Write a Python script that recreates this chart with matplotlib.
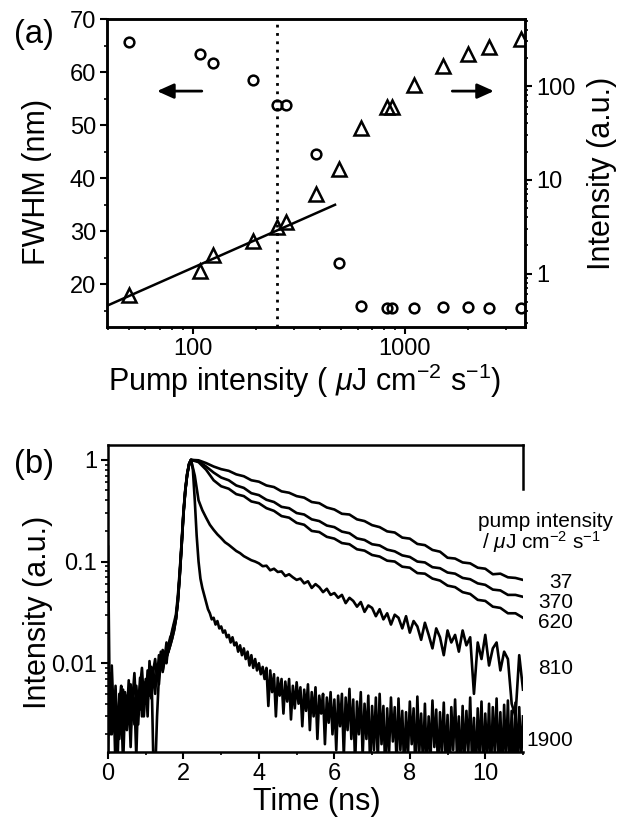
import numpy as np
import matplotlib
matplotlib.use("Agg")
import matplotlib.pyplot as plt
from matplotlib.ticker import FuncFormatter, NullFormatter, LogLocator, MultipleLocator

plt.rcParams['font.family'] = ['Liberation Sans', 'DejaVu Sans']
plt.rcParams['mathtext.fontset'] = 'custom'
plt.rcParams['mathtext.rm'] = 'Liberation Sans'
plt.rcParams['mathtext.it'] = 'Liberation Sans:italic'

# ---- panel (a): FWHM and output intensity vs pump intensity ----
pump = [50, 109, 125, 192, 249, 277, 382, 493, 625, 825, 871, 1111, 1512, 2000, 2510, 3530]
fwhm = [65.6, 63.4, 61.7, 58.4, 53.75, 53.75, 44.5, 23.9, 15.9, 15.5, 15.5, 15.5, 15.6, 15.6, 15.5, 15.5]
out_int = [0.59, 1.08, 1.59, 2.25, 3.18, 3.53, 7.05, 13.0, 35.9, 59.9, 59.9, 103, 162, 218, 263, 315]
fit_x = [39.5, 470]
fit_y = [0.455, 5.43]
threshold = 250

# ---- panel (b): decay traces ----
decay_labels = ['37', '370', '620', '810', '1900']
# pre-peak noisy rise, t = 0 .. 2.15 ns every 0.05 ns
rise_a = [0.14, 0.0030, 0.0045, 0.0022, 0.0060, 0.0016, 0.0050, 0.0030, 0.0055, 0.0025,
          0.0048, 0.0032, 0.0062, 0.0028, 0.0045, 0.0012, 0.0052, 0.0035, 0.0068, 0.0030,
          0.0058, 0.0042, 0.0075, 0.0045, 0.0088, 0.0050, 0.0095, 0.0062, 0.0110, 0.0085,
          0.0105, 0.0125, 0.0140, 0.0170, 0.0200, 0.0240, 0.027, 0.040, 0.070, 0.14,
          0.30, 0.50, 0.72, 0.90]
rise_b = [0.0014, 0.0080, 0.0020, 0.0045, 0.0009, 0.0035, 0.0018, 0.0042, 0.0010, 0.0038,
          0.0022, 0.0048, 0.0015, 0.0055, 0.0025, 0.0060, 0.0035, 0.0072, 0.0030, 0.0065,
          0.0040, 0.0085, 0.0048, 0.0092, 0.0012, 0.0008, 0.0030, 0.0075, 0.0130, 0.0082,
          0.0115, 0.0100, 0.0150, 0.0180, 0.0195, 0.0220, 0.028, 0.042, 0.075, 0.15,
          0.31, 0.52, 0.74, 0.92]
rise_c = [0.0060, 0.0020, 0.0095, 0.0030, 0.0048, 0.0010, 0.0040, 0.0060, 0.0018, 0.0052,
          0.0030, 0.0068, 0.0022, 0.0045, 0.0080, 0.0035, 0.0025, 0.0058, 0.0090, 0.0042,
          0.0070, 0.0030, 0.0105, 0.0060, 0.0085, 0.0110, 0.0070, 0.0120, 0.0090, 0.0135,
          0.0110, 0.0160, 0.0130, 0.0170, 0.0210, 0.0250, 0.0300, 0.045, 0.080, 0.15,
          0.30, 0.51, 0.73, 0.91]
# smooth rise, t = 1.5 .. 2.15 ns every 0.05 ns
rise_s = [0.0105, 0.0115, 0.0130, 0.0150, 0.0175, 0.021, 0.027, 0.040, 0.072, 0.14,
          0.29, 0.50, 0.72, 0.91]

# decays from the peak at 2.2 ns, every 0.2 ns
dec_37 = [1.00, 0.99, 0.93, 0.86, 0.81, 0.78, 0.72, 0.69, 0.63, 0.61,
          0.56, 0.54, 0.49, 0.475, 0.44, 0.425, 0.385, 0.375, 0.34, 0.325,
          0.295, 0.29, 0.26, 0.25, 0.228, 0.218, 0.198, 0.193, 0.172, 0.168,
          0.149, 0.145, 0.130, 0.125, 0.109, 0.107, 0.098, 0.096, 0.087, 0.085,
          0.075, 0.076, 0.070, 0.069, 0.066]
dec_370 = [1.00, 0.97, 0.86, 0.75, 0.67, 0.63, 0.56, 0.53, 0.47, 0.45,
           0.405, 0.385, 0.345, 0.335, 0.30, 0.29, 0.26, 0.25, 0.226, 0.218,
           0.197, 0.19, 0.169, 0.163, 0.148, 0.144, 0.131, 0.126, 0.115, 0.111,
           0.100, 0.098, 0.088, 0.086, 0.078, 0.076, 0.069, 0.067, 0.061, 0.059,
           0.053, 0.052, 0.047, 0.047, 0.045]
dec_620 = [1.00, 0.95, 0.80, 0.63, 0.55, 0.52, 0.46, 0.44, 0.39, 0.375,
           0.335, 0.315, 0.28, 0.27, 0.24, 0.23, 0.20, 0.195, 0.175, 0.168,
           0.152, 0.148, 0.132, 0.128, 0.116, 0.112, 0.102, 0.100, 0.089, 0.087,
           0.077, 0.076, 0.068, 0.065, 0.058, 0.056, 0.050, 0.048, 0.042, 0.041,
           0.036, 0.035, 0.031, 0.031, 0.028]
# every 0.1 ns
dec_810 = [1.0, 0.70, 0.40, 0.32, 0.27, 0.23, 0.205, 0.185, 0.170, 0.155,
           0.146, 0.136, 0.127, 0.121, 0.113, 0.108, 0.103, 0.100, 0.096, 0.090,
           0.091, 0.082, 0.085, 0.079, 0.080, 0.072, 0.075, 0.070, 0.066, 0.068,
           0.061, 0.064, 0.055, 0.060, 0.056, 0.050, 0.054, 0.047, 0.049, 0.044,
           0.047, 0.039, 0.044, 0.041, 0.036, 0.040, 0.032, 0.037, 0.035, 0.029,
           0.034, 0.027, 0.031, 0.024, 0.030, 0.028, 0.022, 0.029, 0.020, 0.026,
           0.023, 0.017, 0.025, 0.019, 0.014, 0.022, 0.018, 0.012, 0.021, 0.016,
           0.019, 0.013, 0.021, 0.015, 0.018, 0.0050, 0.016, 0.011, 0.019, 0.0095,
           0.014, 0.016, 0.0085, 0.013, 0.0110, 0.0040, 0.0030, 0.0120, 0.0055]
# every 0.05 ns
dec_1900 = [1.0, 0.80, 0.40, 0.18, 0.10, 0.068, 0.055, 0.047, 0.040, 0.034,
            0.031, 0.027, 0.028, 0.024, 0.026, 0.022, 0.023, 0.020, 0.021, 0.018,
            0.019, 0.016, 0.018, 0.015, 0.016, 0.013, 0.015, 0.012, 0.014, 0.011,
            0.013, 0.0095, 0.012, 0.0090, 0.011, 0.0085, 0.010, 0.0078, 0.0092, 0.0070,
            0.0090, 0.0038, 0.0085, 0.0052, 0.0078, 0.0030, 0.0072, 0.0048, 0.0070, 0.0032,
            0.0066, 0.0042, 0.0070, 0.0028, 0.0060, 0.0036, 0.0065, 0.0040, 0.0058, 0.0024,
            0.0055, 0.0034, 0.0062, 0.0022, 0.0052, 0.0030, 0.0058, 0.0018, 0.0048, 0.0032,
            0.0050, 0.0016, 0.0046, 0.0026, 0.0052, 0.0020, 0.0044, 0.0014, 0.0048, 0.0024,
            0.0050, 0.0012, 0.0046, 0.0022, 0.0056, 0.0018, 0.0044, 0.0010, 0.0042, 0.0020,
            0.0052, 0.0012, 0.0040, 0.0018, 0.0048, 0.0009, 0.0038, 0.0014, 0.0046, 0.0011,
            0.0050, 0.0016, 0.0038, 0.0008, 0.0036, 0.0013, 0.0046, 0.0017, 0.0037, 0.0010,
            0.0045, 0.0014, 0.0034, 0.0009, 0.0033, 0.0012, 0.0042, 0.0016, 0.0036, 0.0008,
            0.0047, 0.0013, 0.0032, 0.0010, 0.0040, 0.0009, 0.0030, 0.0012, 0.0043, 0.0015,
            0.0035, 0.0008, 0.0033, 0.0013, 0.0041, 0.0010, 0.0031, 0.0007, 0.0037, 0.0014,
            0.0044, 0.0012, 0.0030, 0.0008, 0.0038, 0.0011, 0.0034, 0.0013, 0.0046, 0.0010,
            0.0029, 0.0008, 0.0036, 0.0012, 0.0042, 0.0009, 0.0032, 0.0011, 0.0040, 0.0008,
            0.0037, 0.0013, 0.0045, 0.0009, 0.0033, 0.0008, 0.0039, 0.0011, 0.0043, 0.0009,
            0.0034, 0.0007, 0.0041, 0.0009, 0.0037, 0.0011, 0.0030]

label_y_px = [583, 602, 623, 669, 740]


def trace(rise, rise_t0, dec, dec_step):
    t1 = rise_t0 + 0.05 * np.arange(len(rise))
    t2 = 2.2 + dec_step * np.arange(len(dec))
    return np.concatenate([t1, t2]), np.concatenate([rise, dec])


def style_ticks(ax):
    ax.tick_params(which='major', direction='out', length=5, width=1.5, labelsize=17, pad=3)
    ax.tick_params(which='minor', direction='out', length=2.5, width=1.2)


W, H = 618, 819
fig = plt.figure(figsize=(W / 100, H / 100), dpi=100)

# panel (a)
ax = fig.add_axes([107 / W, 1 - 327 / H, (525 - 107) / W, (327 - 19) / H])
ax2 = ax.twinx()
for a in (ax, ax2):
    for s in a.spines.values():
        s.set_linewidth(1.8)

ax.set_xscale('log')
ax.set_xlim(39.5, 3700)
ax.set_ylim(11.9, 70)
ax.plot(pump, fwhm, 'o', ms=7, mfc='none', mec='black', mew=1.8)
ax.axvline(threshold, color='black', lw=2, ls=(0, (1, 2)))
ax.yaxis.set_major_locator(MultipleLocator(10))
ax.yaxis.set_minor_locator(MultipleLocator(5))
ax.xaxis.set_major_formatter(FuncFormatter(lambda v, p: f'{v:g}'))
ax.xaxis.set_minor_formatter(NullFormatter())
ax.set_ylabel('FWHM (nm)', fontsize=22)
ax.set_xlabel(r'Pump intensity ( $\mu$J cm$^{-2}$ s$^{-1}$)', fontsize=22)
ax.yaxis.set_label_coords(-0.132, 0.47)
ax.xaxis.set_label_coords(0.474, -0.112)
style_ticks(ax)

ax2.set_yscale('log')
ax2.set_ylim(0.27, 520)
ax2.plot(pump, out_int, '^', ms=10, mfc='none', mec='black', mew=1.8)
ax2.plot(fit_x, fit_y, color='black', lw=1.8)
ax2.yaxis.set_major_locator(LogLocator(base=10))
ax2.yaxis.set_major_formatter(FuncFormatter(lambda v, p: f'{v:g}'))
ax2.yaxis.set_minor_formatter(NullFormatter())
ax2.set_ylabel('Intensity (a.u.)', fontsize=22)
ax2.yaxis.set_label_coords(1.148, 0.5)
style_ticks(ax2)

arrow = dict(arrowstyle='-|>,head_length=1.0,head_width=0.45', color='black', lw=2)
ax.annotate('', xy=(66, 56.4), xytext=(114, 56.4), arrowprops=arrow)
ax.annotate('', xy=(2720, 56.4), xytext=(1630, 56.4), arrowprops=arrow)
fig.text(34 / W, 1 - 35 / H, '(a)', fontsize=23.5, ha='center', va='center')

# panel (b)
bx = fig.add_axes([108 / W, 1 - 752 / H, (523 - 108) / W, (752 - 445) / H])
for s in bx.spines.values():
    s.set_linewidth(1.8)
bx.spines['right'].set_visible(False)
bx.plot([1, 1], [0.857, 1], transform=bx.transAxes, color='black', lw=1.8,
        clip_on=False, solid_capstyle='projecting')

curves = [trace(rise_a, 0.0, dec_37, 0.2),
          trace(rise_s, 1.5, dec_370, 0.2),
          trace(rise_s, 1.5, dec_620, 0.2),
          trace(rise_b, 0.0, dec_810, 0.1),
          trace(rise_c, 0.0, dec_1900, 0.05)]
for t, y in curves:
    bx.plot(t, y, color='black', lw=1.9)

bx.set_yscale('log')
bx.set_xlim(0, 11)
bx.set_ylim(0.00134, 1.4)
bx.xaxis.set_major_locator(MultipleLocator(2))
bx.xaxis.set_minor_locator(MultipleLocator(1))
bx.yaxis.set_major_formatter(FuncFormatter(lambda v, p: f'{v:g}'))
bx.yaxis.set_minor_formatter(NullFormatter())
bx.yaxis.set_minor_locator(LogLocator(base=10, subs=np.arange(2, 10)))
bx.set_xlabel('Time (ns)', fontsize=22)
bx.set_ylabel('Intensity (a.u.)', fontsize=22)
bx.xaxis.set_label_coords(0.504, -0.115)
bx.yaxis.set_label_coords(-0.132, 0.456)
style_ticks(bx)
bx.tick_params(right=False, top=False)

fig.text(613 / W, 1 - 527 / H, 'pump intensity', fontsize=15, ha='right', va='baseline')
fig.text(601 / W, 1 - 549 / H, r'/ $\mu$J cm$^{-2}$ s$^{-1}$', fontsize=15, ha='right', va='baseline')
for lab, ypx in zip(decay_labels, label_y_px):
    fig.text(573 / W, 1 - ypx / H, lab, fontsize=15, ha='right', va='center')
fig.text(34 / W, 1 - 465 / H, '(b)', fontsize=23.5, ha='center', va='center')

fig.savefig('out.png', dpi=100)
